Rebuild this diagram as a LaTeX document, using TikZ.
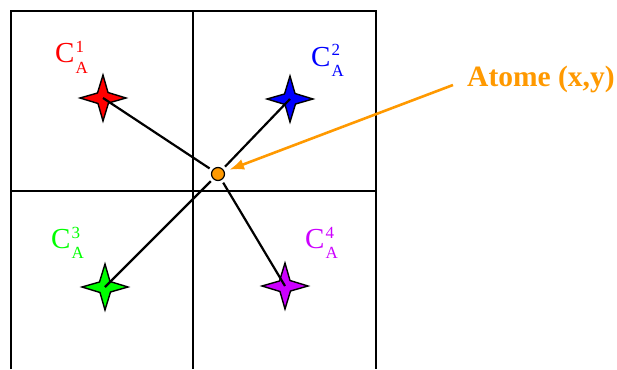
\documentclass[tikz,border=0pt]{standalone}
\usepackage{fontspec}
\setmainfont{Liberation Serif}
\usetikzlibrary{arrows.meta}

\definecolor{orangeat}{RGB}{255,153,0}
\definecolor{violetat}{RGB}{204,0,255}
\definecolor{vertat}{RGB}{0,255,0}

\newcommand{\clabel}[1]{C\kern1pt\rlap{\raisebox{10pt}{\fontsize{17}{17}\selectfont #1}}\raisebox{-10pt}{\fontsize{17}{17}\selectfont A}}
\newcommand{\etoile}[2]{%
  \begin{scope}[shift={(#1)}]
    \draw[fill=#2, line width=1.4pt, line join=miter] (23,0) -- (5.5,5) -- (0,23) -- (-5,5.5) -- (-23,0) -- (-5.5,-5) -- (0,-23) -- (5,-5.5) -- cycle;
  \end{scope}}

\tikzset{
  clab/.style={anchor=base west, inner sep=0pt, font=\fontsize{29}{29}\selectfont},
  liaison/.style={line width=2.2pt, shorten >=3pt},
}

\begin{document}
\begin{tikzpicture}[x=1pt, y=-1pt, >=Latex]
    \useasboundingbox (0,0) rectangle (617,369);

    % grille
    \draw[line width=1.5pt] (11,369) -- (11,11) -- (376,11) -- (376,369);
    \draw[line width=1.5pt] (193,11) -- (193,369);
    \draw[line width=1.5pt] (11,191) -- (376,191);

    \coordinate (c1) at (103,98);
    \coordinate (c2) at (290,99);
    \coordinate (c3) at (105,287);
    \coordinate (c4) at (285,286);

    \etoile{c1}{red}
    \etoile{c2}{blue}
    \etoile{c3}{vertat}
    \etoile{c4}{violetat}

    \node[circle, draw, line width=1.2pt, fill=orangeat, minimum size=13pt, inner sep=0pt] (atome) at (218,174) {};

    \draw[liaison] (c1) -- (atome);
    \draw[liaison] (c2) -- (atome);
    \draw[liaison] (c3) -- (atome);
    \draw[liaison] (c4) -- (atome);

    \node[clab, text=red] (lab1) at (55,63) {\clabel{1}};
    \node[clab, text=blue] (lab2) at (311,66) {\clabel{2}};
    \node[clab, text=vertat] (lab3) at (51,248) {\clabel{3}};
    \node[clab, text=violetat] (lab4) at (305,248) {\clabel{4}};

    \node[anchor=base west, inner sep=0pt, text=orangeat, font=\bfseries\fontsize{29.5}{29.5}\selectfont] (texte) at (467,86) {Atome (x,y)};
    \coordinate (depart) at (453,85);
    \draw[->, orangeat, line width=2.6pt, shorten >=5pt] (depart) -- (atome);
\end{tikzpicture}
\end{document}
